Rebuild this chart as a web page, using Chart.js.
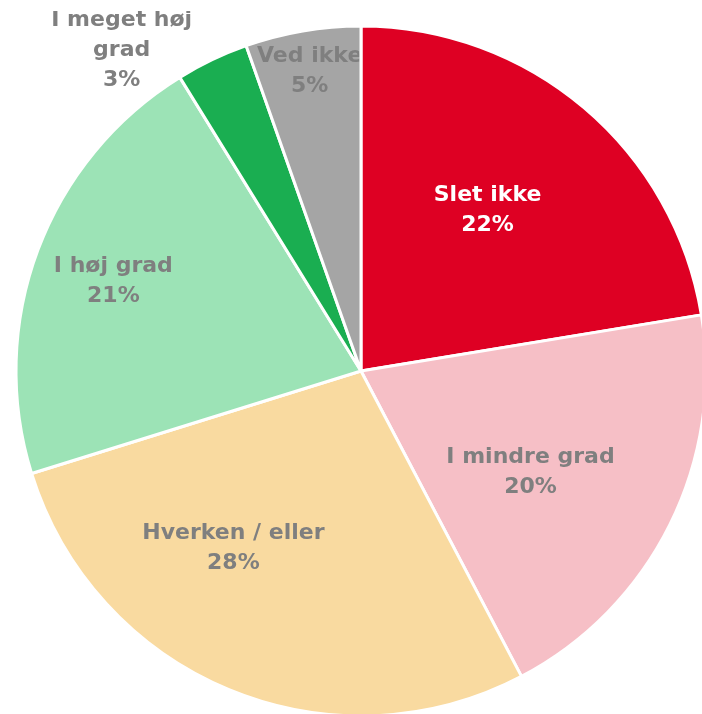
<!DOCTYPE html>
<html>
<head>
<meta charset="utf-8">
<script src="https://cdn.jsdelivr.net/npm/chart.js@4/dist/chart.umd.min.js"></script>
<style>
  html, body { margin: 0; padding: 0; background: #fff; overflow: hidden; width: 702px; height: 714px; }
  #wrap { position: absolute; left: 1px; top: 11px; width: 720px; height: 720px; }
</style>
</head>
<body>
<div id="wrap"><canvas id="chart"></canvas></div>
<script>
// answers, clockwise from 12 o'clock
var categories = ['Slet ikke', 'I mindre grad', 'Hverken / eller', 'I høj grad', 'I meget høj grad', 'Ved ikke'];
var shares = [22.4, 19.9, 27.9, 21.0, 3.4, 5.4];
var sliceColors = ['#DE0023', '#F6BFC6', '#F9DAA0', '#9CE3B6', '#1AAE51', '#A5A5A5'];
var labelColors = ['#FFFFFF', '#7F7F7F', '#7F7F7F', '#7F7F7F', '#7F7F7F', '#7F7F7F'];

// where each label sits: fraction of radius, angle tweak (deg), wrap width, clip to slice
var labelPlacement = [
    { r: 0.593, a: -2.1 },
    { r: 0.573, a: 4.5 },
    { r: 0.634, a: 13.2 },
    { r: 0.763, a: -0.7 },
    { r: 1.159, a: -11.2, wrap: 165 },
    { r: 0.881, a: 0, clip: true }
];

var FONT = 'bold 22px "DejaVu Sans", sans-serif';

function wrapText(ctx, text, maxW) {
    if (!maxW) return [text];
    var words = text.split(' ');
    var lines = [];
    var cur = '';
    words.forEach(function (w) {
        var test = cur ? cur + ' ' + w : w;
        if (cur && ctx.measureText(test).width > maxW) {
            lines.push(cur);
            cur = w;
        } else {
            cur = test;
        }
    });
    if (cur) lines.push(cur);
    return lines;
}

var sliceLabels = {
    id: 'sliceLabels',
    afterDatasetsDraw: function (chart) {
        var ctx = chart.ctx;
        var meta = chart.getDatasetMeta(0);
        var data = chart.data.datasets[0].data;
        var total = data.reduce(function (a, b) { return a + b; }, 0);
        meta.data.forEach(function (arc, i) {
            var p = labelPlacement[i];
            var mid = (arc.startAngle + arc.endAngle) / 2 + p.a * Math.PI / 180;
            var rr = arc.outerRadius * p.r;
            var cx = arc.x + Math.cos(mid) * rr;
            var cy = arc.y + Math.sin(mid) * rr;
            ctx.save();
            ctx.font = FONT;
            ctx.fillStyle = labelColors[i];
            ctx.textAlign = 'center';
            ctx.textBaseline = 'middle';
            if (p.clip) {
                ctx.beginPath();
                ctx.moveTo(arc.x, arc.y);
                ctx.arc(arc.x, arc.y, arc.outerRadius * 2, arc.startAngle, arc.endAngle - 0.006);
                ctx.closePath();
                ctx.clip();
            }
            var lines = wrapText(ctx, categories[i], p.wrap);
            lines.push(Math.round(data[i] / total * 100) + '%');
            var lh = 30;
            var y0 = cy - (lines.length - 1) * lh / 2;
            lines.forEach(function (t, k) {
                ctx.fillText(t, cx, y0 + k * lh);
            });
            ctx.restore();
        });
    }
};

new Chart(document.getElementById('chart'), {
    type: 'pie',
    data: {
        labels: categories,
        datasets: [{
            data: shares,
            backgroundColor: sliceColors,
            borderColor: '#FFFFFF',
            borderWidth: 3
        }]
    },
    options: {
        responsive: true,
        maintainAspectRatio: false,
        animation: false,
        radius: 345,
        layout: { padding: 0 },
        plugins: {
            legend: { display: false },
            tooltip: { enabled: false }
        }
    },
    plugins: [sliceLabels]
});
</script>
</body>
</html>
